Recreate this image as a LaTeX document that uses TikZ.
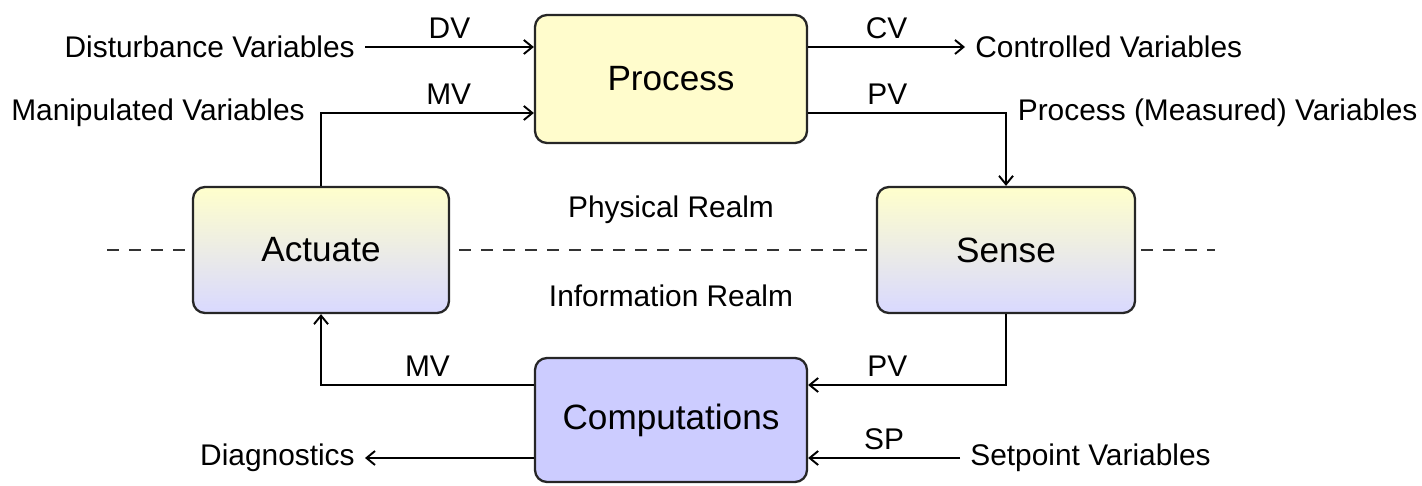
\documentclass[tikz,border=0pt]{standalone}
\usepackage{fontspec}
\setmainfont{Liberation Sans}
\usetikzlibrary{positioning,arrows.meta}

\begin{document}
\begin{tikzpicture}[
    block/.style={rectangle, rounded corners=0.24cm, draw=black!85, line width=1.3pt, minimum width=5.44cm, minimum height=2.56cm, font=\fontsize{20}{24}\selectfont},
    arrow/.style={-{Straight Barb[length=0.17cm, width=0.28cm]}, line width=1.1pt},
    var/.style={font=\fontsize{17}{20}\selectfont, inner sep=0.2cm},
    tag/.style={font=\fontsize{17}{20}\selectfont, above, inner sep=0.15cm}
]
    \useasboundingbox (0,0) rectangle (28.44,9.7);

    % boundary between the two realms
    \coordinate (bl) at (2.14,4.7);
    \coordinate (br) at (24.3,4.7);
    \draw[line width=0.8pt, black!80, dash pattern=on 0.24cm off 0.2cm] (bl) -- (br);

    \node[block, fill=yellow!20] (proc) at (13.42,8.12) {Process};
    \node[block, top color=yellow!20, bottom color=blue!15, minimum width=5.12cm, minimum height=2.52cm] (act) at (6.42,4.7) {Actuate};
    \node[block, top color=yellow!20, bottom color=blue!15, minimum width=5.16cm, minimum height=2.52cm] (sense) at (20.12,4.7) {Sense};
    \node[block, fill=blue!20, minimum height=2.48cm] (comp) at (13.42,1.3) {Computations};

    \node[var] (phys) at (13.42,5.5) {Physical Realm};
    \node[var] (info) at (13.42,3.78) {Information Realm};

    \node[var, anchor=east] (dist) at (7.3,8.76) {Disturbance Variables};
    \node[var, anchor=east] (manip) at (6.3,7.44) {Manipulated Variables};
    \node[var, anchor=west] (ctrl) at (19.3,8.76) {Controlled Variables};
    \node[var, anchor=west] (meas) at (20.15,7.44) {Process (Measured) Variables};
    \node[var, anchor=east] (diag) at (7.3,0.54) {Diagnostics};
    \node[var, anchor=west] (setp) at (19.2,0.54) {Setpoint Variables};

    % physical side
    \draw[arrow] (dist) -- node[tag] {DV} (dist -| proc.west);
    \draw[arrow] (act.north) |- node[tag, pos=0.8] {MV} (manip -| proc.west);
    \draw[arrow] (ctrl -| proc.east) -- node[tag] {CV} (ctrl);
    \draw[arrow] (meas -| proc.east) -| node[tag, pos=0.2] {PV} (sense.north);

    % information side
    \draw[arrow] (sense.south) |- node[tag, pos=0.8] {PV} ([yshift=0.7cm]comp.east);
    \draw[arrow] ([yshift=0.7cm]comp.west) -| node[tag, pos=0.25] {MV} (act.south);
    \draw[arrow] (setp) -- node[tag] {SP} (setp -| comp.east);
    \draw[arrow] (diag -| comp.west) -- (diag);
\end{tikzpicture}
\end{document}
